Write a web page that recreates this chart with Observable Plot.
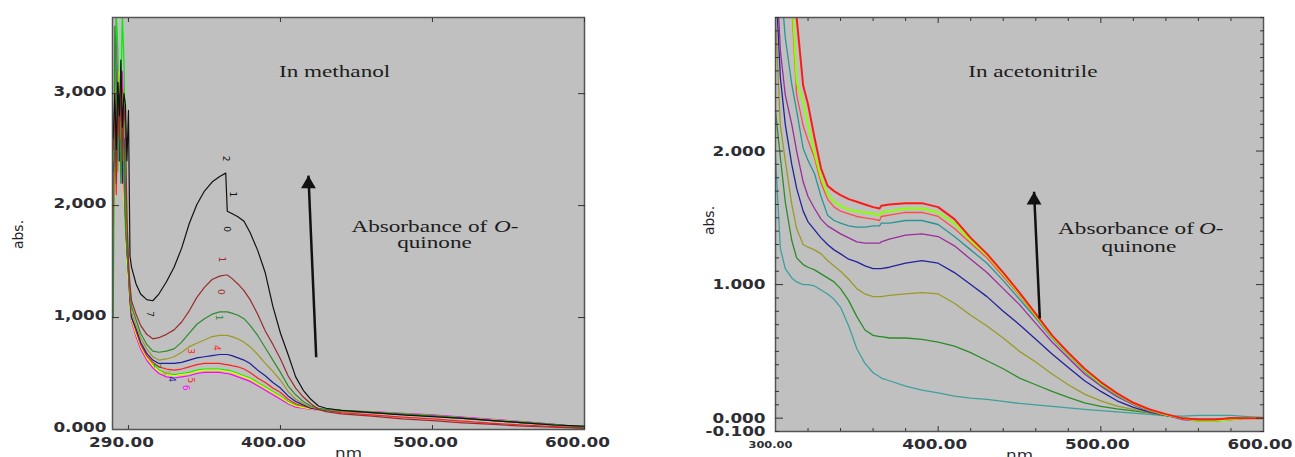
<!DOCTYPE html>
<html>
<head>
<meta charset="utf-8">
<script src="https://cdn.jsdelivr.net/npm/d3@7"></script>
<script src="https://cdn.jsdelivr.net/npm/@observablehq/plot@0.6"></script>
<style>
html,body{margin:0;padding:0;background:#fff}
#wrap{position:relative;width:1295px;height:457px;overflow:hidden}
#left{position:absolute;left:0;top:0}
#right{position:absolute;left:640px;top:0}
svg{display:block}
</style>
</head>
<body>
<div id="wrap"><div id="left"></div><div id="right"></div></div>
<script>
// ---------- Panel 1: In methanol ----------
const methanolNm = [290,291,292,293,294,295,296,297,298,299,300,301,302,305,308,312,316,320,325,330,335,340,345,350,355,360,364,365,368,372,376,380,385,390,395,400,405,410,415,420,425,430,440,460,480,500,520,540,560,580,600];
const mBlack   = [2.6,3.0,2.5,3.1,2.8,3.3,2.7,3.0,2.9,2.4,2.85,1.55,1.45, 1.30,1.21,1.16,1.15,1.21, 1.32,1.45,1.62,1.84,2.01,2.13,2.21,2.26, 2.29,1.95,1.93,1.90,1.86,1.76, 1.60,1.40,1.10,0.86,0.67,0.47,0.35,0.27,0.21,0.19, 0.17,0.15,0.13,0.115,0.10,0.08,0.06,0.04,0.03];
const mBrown   = [2.5,2.9,2.2,3.0,2.6,3.2,2.4,2.9,2.7,1.9,1.5,1.3,1.15, 1.03,0.93,0.85,0.81,0.82, 0.85,0.89,0.96,1.06,1.18,1.27,1.34,1.37, 1.38,1.38,1.35,1.30,1.24,1.16, 1.03,0.88,0.76,0.63,0.48,0.37,0.29,0.23,0.18,0.16, 0.14,0.12,0.095,0.08,0.06,0.045,0.03,0.02,0.01];
const mGreen   = [1.0,3.6,3.2,2.4,3.0,2.2,2.8,2.5,1.8,1.6,1.4,1.25,1.1, 0.98,0.86,0.76,0.70,0.69, 0.70,0.72,0.78,0.86,0.94,0.99,1.03,1.05, 1.05,1.05,1.04,1.02,0.99,0.93, 0.84,0.73,0.62,0.51,0.39,0.31,0.25,0.21,0.19,0.18, 0.17,0.155,0.14,0.125,0.105,0.08,0.065,0.045,0.02];
const mOlive   = [2.4,2.7,3.1,2.3,2.9,2.6,3.0,2.3,2.0,1.7,1.45,1.2,1.05, 0.93,0.82,0.72,0.65,0.62, 0.63,0.65,0.69,0.74,0.77,0.80,0.83,0.84, 0.84,0.84,0.83,0.81,0.78,0.74, 0.67,0.59,0.52,0.44,0.34,0.27,0.23,0.20,0.185,0.175, 0.165,0.15,0.135,0.12,0.10,0.08,0.06,0.04,0.02];
const mBlue    = [2.3,2.5,2.9,3.1,2.4,3.0,2.2,2.6,1.9,1.6,1.4,1.15,1.0, 0.90,0.78,0.68,0.62,0.59, 0.59,0.59,0.60,0.62,0.64,0.65,0.66,0.67, 0.67,0.67,0.66,0.64,0.62,0.59, 0.53,0.48,0.42,0.37,0.30,0.25,0.22,0.19,0.18,0.17, 0.165,0.15,0.135,0.12,0.10,0.08,0.06,0.04,0.02];
const mRed     = [1.8,2.9,2.1,3.0,2.4,2.8,3.05,2.2,1.9,1.6,1.4,1.15,1.0, 0.88,0.76,0.66,0.60,0.56, 0.54,0.53,0.54,0.56,0.58,0.59,0.59,0.59, 0.58,0.58,0.57,0.56,0.54,0.51, 0.46,0.42,0.37,0.33,0.27,0.23,0.21,0.19,0.18,0.17, 0.15,0.13,0.11,0.095,0.075,0.055,0.04,0.025,0.015];
const mYellow  = [1.6,2.4,3.0,2.6,3.2,2.8,2.5,2.1,1.8,1.5,1.35,1.1,0.98, 0.85,0.74,0.64,0.57,0.52, 0.49,0.48,0.49,0.50,0.52,0.53,0.53,0.53, 0.52,0.52,0.51,0.49,0.47,0.45, 0.41,0.37,0.33,0.29,0.24,0.21,0.195,0.185,0.175,0.17, 0.165,0.155,0.14,0.125,0.105,0.085,0.065,0.04,0.015];
const mLime    = [2.4,2.9,3.7,3.4,2.6,3.0,3.7,3.3,2.5,1.9,1.45,1.15,0.99, 0.86,0.75,0.65,0.58,0.53, 0.50,0.49,0.50,0.51,0.53,0.54,0.54,0.54, 0.53,0.53,0.52,0.50,0.48,0.46, 0.42,0.38,0.34,0.30,0.25,0.22,0.20,0.19,0.18,0.175, 0.17,0.155,0.14,0.125,0.105,0.085,0.065,0.04,0.015];
const mMagenta = [2.2,2.8,3.7,3.0,2.7,2.9,3.2,2.6,2.0,1.6,1.4,1.12,0.97, 0.83,0.72,0.62,0.55,0.50, 0.47,0.46,0.47,0.48,0.50,0.51,0.51,0.51, 0.50,0.50,0.49,0.47,0.45,0.43, 0.39,0.35,0.31,0.27,0.23,0.20,0.19,0.18,0.175,0.17, 0.165,0.16,0.145,0.13,0.11,0.09,0.07,0.045,0.02];
const methanolSeries = [mMagenta, mLime, mYellow, mRed, mBlue, mOlive, mGreen, mBrown, mBlack];
const methanolColors = ["#ff00ff", "#00ee00", "#f2f200", "#ff2020", "#1c1ca0", "#9a9a24", "#2e8b2e", "#9a2c2c", "#111111"];
const methanolXTicks = [300, 400, 500, 600];
const methanolXLabels = ["290.00", "400.00", "500.00", "600.00"];
const methanolYTicks = [0, 1, 2, 3];
const methanolYLabels = ["0.000", "1,000", "2,000", "3,000"];
const mPeakText  = ["2", "1", "0", "7", "1", "0", "1", "4", "3", "4", "5", "6", "2", "3"];
const mPeakNm    = [363.8, 368.9, 365, 314, 361.2, 360.6, 359.5, 358, 324.4, 328.8, 340.8, 337.5, 318.9, 340.8];
const mPeakAbs   = [2.42, 2.10, 1.79, 1.03, 1.52, 1.23, 1.00, 0.73, 0.51, 0.45, 0.44, 0.375, 0.57, 0.70];
const mPeakColor = ["#111", "#111", "#111", "#111", "#9a2c2c", "#9a2c2c", "#2e8b2e", "#ff2020", "#9a9a24", "#1c1ca0", "#ff2020", "#ff00ff", "#2e8b2e", "#ff2020"];
const mArrowNm  = [423.5, 418.4];   // base, tip
const mArrowAbs = [0.645, 2.268];

// ---------- Panel 2: In acetonitrile ----------
const acetoNm = [300,303,306,310,313,317,320,324,328,332,336,340,345,350,355,360,364,365,370,380,390,400,410,420,430,440,450,460,470,480,490,500,510,520,530,540,550,560,570,580,590,600];
const aTealLow  = [1.95,1.27,1.12,1.05,1.02,1.0,1.0,0.99,0.96,0.93,0.89,0.83, 0.69,0.52,0.41,0.34,0.31,0.30,0.28, 0.24,0.21,0.19,0.165,0.15,0.14,0.125,0.11,0.10,0.088,0.077,0.066,0.057, 0.047,0.037,0.028,0.018,0.015,0.02,0.02,0.02,0.012,0.005];
const aGreen    = [2.3,1.95,1.62,1.33,1.2,1.15,1.13,1.11,1.08,1.05,1.02,0.97, 0.88,0.76,0.66,0.62,0.61,0.61,0.60, 0.60,0.59,0.57,0.54,0.49,0.43,0.37,0.30,0.25,0.20,0.155,0.115,0.088, 0.07,0.055,0.04,0.02,0.0,-0.01,-0.01,0.0,0.0,0.0];
const aOlive    = [3.0,2.19,1.93,1.6,1.42,1.30,1.28,1.26,1.23,1.18,1.14,1.10, 1.04,0.97,0.93,0.91,0.91,0.91,0.92, 0.93,0.94,0.93,0.86,0.77,0.69,0.60,0.50,0.42,0.33,0.25,0.18,0.13, 0.09,0.065,0.04,0.02,0.0,-0.01,-0.01,0.0,0.0,0.0];
const aBlue     = [3.3,2.55,2.2,1.9,1.72,1.55,1.47,1.41,1.35,1.30,1.26,1.23, 1.19,1.17,1.14,1.12,1.12,1.12,1.13, 1.16,1.18,1.16,1.09,1.00,0.91,0.80,0.70,0.59,0.48,0.38,0.28,0.20, 0.13,0.08,0.045,0.02,0.0,-0.02,-0.02,-0.01,0.0,0.0];
const aPurple   = [3.5,2.75,2.42,2.2,2.0,1.77,1.66,1.57,1.49,1.44,1.41,1.38, 1.35,1.32,1.31,1.31,1.31,1.32,1.34, 1.37,1.38,1.36,1.29,1.19,1.09,0.97,0.85,0.71,0.57,0.45,0.33,0.24, 0.16,0.10,0.05,0.02,-0.01,-0.02,-0.02,-0.01,0.0,0.0];
const aTeal     = [3.6,3.3,2.85,2.5,2.3,2.02,1.93,1.83,1.66,1.52,1.48,1.46, 1.44,1.43,1.43,1.44,1.44,1.46,1.46, 1.48,1.48,1.45,1.36,1.26,1.16,1.03,0.89,0.75,0.60,0.47,0.35,0.25, 0.17,0.105,0.055,0.025,0.0,-0.01,-0.01,0.0,0.0,0.0];
const aRedLight = [3.8,3.6,3.4,3.1,2.42,2.19,2.08,1.95,1.76,1.64,1.58,1.55, 1.53,1.51,1.50,1.49,1.48,1.51,1.52, 1.54,1.54,1.51,1.42,1.31,1.20,1.06,0.92,0.76,0.61,0.48,0.36,0.26, 0.18,0.11,0.06,0.025,0.0,-0.01,-0.01,0.0,0.0,0.0];
const aLime     = [3.9,3.7,3.5,3.2,2.52,2.37,2.2,1.98,1.80,1.68,1.62,1.59, 1.56,1.55,1.54,1.53,1.52,1.54,1.55, 1.57,1.57,1.54,1.46,1.33,1.22,1.08,0.93,0.77,0.61,0.48,0.36,0.26, 0.18,0.11,0.06,0.025,0.0,-0.02,-0.02,-0.01,0.0,0.0];
const aRed      = [4.0,3.9,3.7,3.4,3.0,2.49,2.35,2.1,1.87,1.74,1.70,1.67, 1.64,1.62,1.60,1.58,1.57,1.59,1.60, 1.61,1.61,1.58,1.49,1.35,1.23,1.09,0.94,0.78,0.62,0.49,0.37,0.27, 0.185,0.115,0.065,0.03,0.0,-0.01,-0.01,0.0,0.0,0.0];
const acetoSeries = [aTealLow, aGreen, aOlive, aBlue, aPurple, aTeal, aRedLight, aLime, aRed];
const acetoColors = ["#3f9f9f", "#2a8c2a", "#9a9a28", "#22229c", "#9c2c9c", "#2a9494", "#ff4a4a", "#8cff00", "#ff1a1a"];
const acetoWidths = [1.2, 1.2, 1.2, 1.2, 1.2, 1.2, 1.4, 2, 2];
const acetoXTicks = [300, 400, 500, 600];
const acetoXLabels = ["300.00", "400.00", "500.00", "600.00"];
const acetoYTicks = [-0.1, 0, 1, 2];
const acetoYLabels = ["-0.100", "0.000", "1.000", "2.000"];
const aArrowNm  = [462.5, 458.95];
const aArrowAbs = [0.747, 1.695];

// ---------- helpers ----------
function rows(nm, series, colors, widths) {
  const out = [];
  series.forEach((arr, k) => arr.forEach((v, i) => out.push({nm: nm[i], abs: v, s: k, color: colors[k], w: widths ? widths[k] : 1.2})));
  return out;
}
// widen glyphs horizontally (the reference image is horizontally stretched)
function stretchEl(t, k) {
  const tr = t.getAttribute("transform") || "";
  t.setAttribute("transform", `${tr} scale(${k},1)`);
}
function stretchGroup(svg, label, k) {
  svg.querySelectorAll(`g[aria-label="${label}"] text`).forEach(t => stretchEl(t, k));
}
function stretchTexts(svg, texts, k) {
  svg.querySelectorAll("text").forEach(t => { if (texts.includes(t.textContent)) stretchEl(t, k); });
}
const tickFont = {fontFamily: "DejaVu Sans", fontWeight: "bold", fontSize: 14, fill: "#2d2d33"};
const noteFont = {fontFamily: "Liberation Serif", fontSize: 16, fill: "#1c1c1c"};
const noteTexts = ["In methanol", "In acetonitrile", "Absorbance of", "O-", "quinone"];
const tickStroke = "#333";

// ---------- left plot ----------
const mRows = rows(methanolNm, methanolSeries, methanolColors);
const leftSvg = Plot.plot({
  width: 640, height: 457,
  marginLeft: 112, marginRight: 56, marginTop: 17, marginBottom: 28,
  style: {background: "transparent", overflow: "visible"},
  x: {domain: [289.5, 600], label: null},
  y: {domain: [0, 3.68], label: null},
  color: {type: "identity"},
  marks: [
    Plot.frame({fill: "#c0c0c0", stroke: null}),
    Plot.line(mRows, {x: "nm", y: "abs", z: "s", stroke: "color", strokeWidth: 1.2, clip: true}),
    Plot.text(mPeakText, {x: mPeakNm, y: mPeakAbs, text: mPeakText, fill: mPeakColor, rotate: 90, fontSize: 9, fontFamily: "DejaVu Sans"}),
    Plot.link([0], {x1: [mArrowNm[0]], y1: [mArrowAbs[0]], x2: [mArrowNm[1]], y2: [mArrowAbs[1]], stroke: "#111", strokeWidth: 2.5}),
    Plot.dot([0], {x: [mArrowNm[1]], y: [mArrowAbs[1]], symbol: "triangle", r: 5.5, fill: "#111", stroke: null, dy: 8.5}),
    Plot.text(["In methanol"], {x: [435.6], y: [3.196], ...noteFont}),
    Plot.text(["Absorbance of"], {x: [536.0], y: [1.81], textAnchor: "end", ...noteFont}),
    Plot.text(["O-"], {x: [540.4], y: [1.81], textAnchor: "start", fontStyle: "italic", ...noteFont}),
    Plot.text(["quinone"], {x: [501.3], y: [1.665], ...noteFont}),
    Plot.frame({stroke: "#555", strokeWidth: 1.5}),
    Plot.axisX(methanolXTicks, {anchor: "bottom", tickSize: 4, dy: -4, fill: "none", stroke: tickStroke, label: null}),
    Plot.axisX(methanolXTicks, {anchor: "top", tickSize: 4, dy: 4, fill: "none", stroke: tickStroke, label: null}),
    Plot.axisY(methanolYTicks.slice(1), {anchor: "left", tickSize: 7, dx: 7, fill: "none", stroke: tickStroke, label: null}),
    Plot.axisY(methanolYTicks.slice(1), {anchor: "right", tickSize: 7, dx: -7, fill: "none", stroke: tickStroke, label: null}),
    Plot.axisX(methanolXTicks, {anchor: "bottom", tickSize: 0, tickPadding: 8, dx: -7, tickFormat: d => methanolXLabels[methanolXTicks.indexOf(d)], ...tickFont, label: null}),
    Plot.axisY(methanolYTicks, {anchor: "left", tickSize: 0, tickPadding: 6, dy: -2, tickFormat: d => methanolYLabels[methanolYTicks.indexOf(d)], ...tickFont, label: null}),
    Plot.text(["nm"], {frameAnchor: "bottom", dy: 28, ...tickFont, fontWeight: "normal"}),
    Plot.text(["abs."], {frameAnchor: "left", textAnchor: "middle", dx: -94, dy: 11, rotate: -90, fontFamily: "DejaVu Sans", fontSize: 14, fill: "#222"})
  ]
});

// ---------- right plot ----------
const aRows = rows(acetoNm, acetoSeries, acetoColors, acetoWidths);
const yMajor = [0, 1, 2];
const yMinor = d3.range(-1, 31).map(i => i / 10).filter(v => !yMajor.some(m => Math.abs(m - v) < 1e-9));
const xMajor = [400, 500];
const xMinor = [320, 340, 360, 380, 420, 440, 460, 480, 520, 540, 560, 580];
const rightSvg = Plot.plot({
  width: 655, height: 457,
  marginLeft: 135, marginRight: 32, marginTop: 17, marginBottom: 26,
  style: {background: "transparent", overflow: "visible"},
  x: {domain: [300, 600], label: null},
  y: {domain: [-0.1, 3.0], label: null},
  color: {type: "identity"},
  marks: [
    Plot.frame({fill: "#c0c0c0", stroke: null}),
    Plot.line(aRows.filter(d => d.w < 1.5), {x: "nm", y: "abs", z: "s", stroke: "color", strokeWidth: 1.3, clip: true}),
    Plot.line(aRows.filter(d => d.w >= 1.5), {x: "nm", y: "abs", z: "s", stroke: "color", strokeWidth: 2, clip: true}),
    Plot.link([0], {x1: [aArrowNm[0]], y1: [aArrowAbs[0]], x2: [aArrowNm[1]], y2: [aArrowAbs[1]], stroke: "#111", strokeWidth: 2.5}),
    Plot.dot([0], {x: [aArrowNm[1]], y: [aArrowAbs[1]], symbol: "triangle", r: 5.5, fill: "#111", stroke: null, dy: 8.5}),
    Plot.text(["In acetonitrile"], {x: [458.2], y: [2.59], ...noteFont}),
    Plot.text(["Absorbance of"], {x: [557.2], y: [1.42], textAnchor: "end", ...noteFont}),
    Plot.text(["O-"], {x: [560.3], y: [1.42], textAnchor: "start", fontStyle: "italic", ...noteFont}),
    Plot.text(["quinone"], {x: [523.4], y: [1.285], ...noteFont}),
    Plot.frame({stroke: "#555", strokeWidth: 1.5}),
    Plot.axisX(xMajor, {anchor: "bottom", tickSize: 5, dy: -5, fill: "none", stroke: tickStroke, label: null}),
    Plot.axisX(xMajor, {anchor: "top", tickSize: 5, dy: 5, fill: "none", stroke: tickStroke, label: null}),
    Plot.axisX(xMinor, {anchor: "bottom", tickSize: 3, dy: -3, fill: "none", stroke: tickStroke, label: null}),
    Plot.axisX(xMinor, {anchor: "top", tickSize: 3, dy: 3, fill: "none", stroke: tickStroke, label: null}),
    Plot.axisY(yMajor, {anchor: "left", tickSize: 8, dx: 8, fill: "none", stroke: tickStroke, label: null}),
    Plot.axisY(yMajor, {anchor: "right", tickSize: 8, dx: -8, fill: "none", stroke: tickStroke, label: null}),
    Plot.axisY(yMinor, {anchor: "left", tickSize: 4, dx: 4, fill: "none", stroke: tickStroke, label: null}),
    Plot.axisY(yMinor, {anchor: "right", tickSize: 4, dx: -4, fill: "none", stroke: tickStroke, label: null}),
    Plot.axisX(acetoXTicks.slice(1), {anchor: "bottom", tickSize: 0, tickPadding: 8, dx: -3.5, tickFormat: d => acetoXLabels[acetoXTicks.indexOf(d)], ...tickFont, label: null}),
    Plot.text([acetoXTicks[0]], {x: d => d, text: [acetoXLabels[0]], frameAnchor: "bottom", textAnchor: "middle", dy: 16, dx: -5, ...tickFont, fontSize: 9.5}),
    Plot.axisY(acetoYTicks, {anchor: "left", tickSize: 0, tickPadding: 10, tickFormat: d => acetoYLabels[acetoYTicks.indexOf(d)], ...tickFont, label: null}),
    Plot.text(["nm"], {frameAnchor: "bottom", dy: 28, ...tickFont, fontWeight: "normal"}),
    Plot.text(["abs."], {frameAnchor: "left", textAnchor: "middle", dx: -66, dy: -4, rotate: -90, fontFamily: "DejaVu Sans", fontSize: 14, fill: "#222"})
  ]
});

for (const svg of [leftSvg, rightSvg]) {
  stretchTexts(svg, noteTexts, 1.45);
  stretchGroup(svg, "x-axis tick label", 1.2);
  stretchGroup(svg, "y-axis tick label", 1.2);
  stretchTexts(svg, ["nm", "300.00"], 1.2);
}
document.getElementById("left").appendChild(leftSvg);
document.getElementById("right").appendChild(rightSvg);
</script>
</body>
</html>
